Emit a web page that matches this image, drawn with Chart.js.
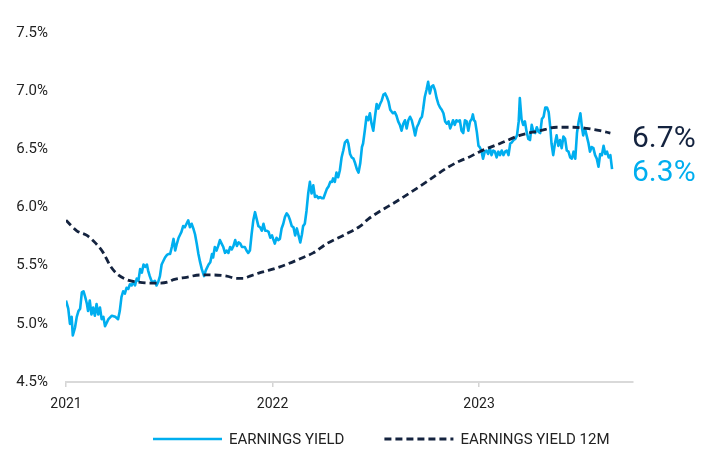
<!DOCTYPE html>
<html>
<head>
<meta charset="utf-8">
<script src="https://cdn.jsdelivr.net/npm/chart.js@4.4.0/dist/chart.umd.min.js"></script>
<style>
  html, body { margin: 0; padding: 0; background: #fff; }
  #chart { display: block; }
</style>
</head>
<body>
<canvas id="chart" width="712" height="451"></canvas>
<script>
// days since 1 Jan 2021
const eyDays = [
  0, 4, 7, 10, 12, 16, 19, 22, 25, 28,
  31, 34, 37, 39, 42, 45, 48, 51, 54, 57,
  60, 63, 66, 69, 72, 75, 81, 87, 92, 95,
  98, 101, 104, 107, 110, 113, 116, 119, 122, 125,
  128, 131, 134, 137, 140, 143, 145, 148, 151, 154,
  157, 160, 163, 166, 169, 172, 175, 178, 181, 184,
  187, 190, 193, 196, 199, 202, 204, 207, 210, 213,
  216, 219, 222, 225, 228, 231, 234, 237, 240, 244,
  247, 252, 255, 258, 260, 263, 266, 269, 272, 275,
  278, 281, 284, 287, 290, 293, 296, 299, 302, 305,
  308, 311, 313, 316, 319, 322, 325, 328, 331, 334,
  337, 340, 343, 346, 349, 352, 355, 358, 361, 364,
  366, 369, 372, 375, 378, 381, 384, 387, 390, 393,
  396, 399, 402, 405, 408, 411, 414, 417, 419, 422,
  425, 428, 431, 434, 437, 440, 443, 446, 449, 452,
  455, 458, 461, 464, 467, 470, 472, 475, 478, 481,
  484, 487, 490, 493, 497, 499, 502, 505, 508, 511,
  514, 517, 520, 523, 525, 528, 531, 534, 537, 540,
  543, 546, 549, 552, 555, 558, 561, 564, 567, 570,
  573, 576, 578, 581, 584, 587, 590, 593, 596, 599,
  602, 605, 608, 611, 614, 617, 620, 623, 626, 629,
  631, 634, 637, 640, 643, 646, 649, 652, 655, 658,
  661, 664, 667, 670, 673, 676, 679, 682, 684, 687,
  690, 693, 696, 699, 702, 705, 708, 711, 714, 717,
  719, 721, 723, 726, 729, 731, 734, 737, 740, 743,
  746, 749, 752, 755, 758, 761, 764, 767, 770, 773,
  776, 779, 782, 785, 788, 791, 794, 797, 800, 802,
  805, 808, 811, 814, 817, 820, 823, 826, 829, 832,
  835, 838, 841, 844, 847, 850, 853, 856, 858, 861,
  864, 867, 870, 873, 876, 879, 882, 885, 888, 891,
  894, 897, 900, 903, 906, 909, 912, 914, 917, 920,
  923, 926, 929, 932, 935, 938, 941, 944, 947, 950,
  953, 956, 959, 962, 965
];
const eyValues = [
  5.20, 5.13, 5.00, 5.06, 4.90, 4.97, 5.06, 5.11, 5.13, 5.27,
  5.28, 5.23, 5.17, 5.11, 5.20, 5.08, 5.14, 5.07, 5.17, 5.08,
  5.14, 5.04, 5.06, 4.98, 5.01, 5.04, 5.07, 5.06, 5.04, 5.11,
  5.23, 5.28, 5.26, 5.31, 5.30, 5.34, 5.33, 5.36, 5.33, 5.39,
  5.37, 5.47, 5.44, 5.51, 5.49, 5.51, 5.46, 5.41, 5.37, 5.36,
  5.37, 5.33, 5.36, 5.41, 5.51, 5.54, 5.57, 5.59, 5.60, 5.60,
  5.66, 5.73, 5.63, 5.69, 5.74, 5.77, 5.79, 5.84, 5.83, 5.86,
  5.89, 5.83, 5.86, 5.82, 5.77, 5.69, 5.60, 5.53, 5.47, 5.41,
  5.46, 5.51, 5.53, 5.60, 5.57, 5.66, 5.63, 5.67, 5.72, 5.69,
  5.66, 5.61, 5.63, 5.61, 5.66, 5.64, 5.67, 5.72, 5.67, 5.70,
  5.69, 5.66, 5.66, 5.66, 5.63, 5.61, 5.63, 5.77, 5.89, 5.96,
  5.90, 5.84, 5.83, 5.80, 5.86, 5.80, 5.80, 5.79, 5.74, 5.76,
  5.73, 5.69, 5.74, 5.72, 5.73, 5.82, 5.86, 5.92, 5.95, 5.93,
  5.89, 5.84, 5.83, 5.76, 5.82, 5.76, 5.70, 5.77, 5.84, 5.86,
  5.97, 6.12, 6.22, 6.12, 6.19, 6.09, 6.10, 6.08, 6.09, 6.08,
  6.08, 6.12, 6.16, 6.18, 6.22, 6.22, 6.25, 6.22, 6.30, 6.26,
  6.32, 6.43, 6.49, 6.56, 6.58, 6.55, 6.46, 6.43, 6.42, 6.38,
  6.33, 6.30, 6.38, 6.52, 6.55, 6.66, 6.78, 6.75, 6.81, 6.72,
  6.66, 6.78, 6.89, 6.85, 6.89, 6.92, 6.97, 6.98, 6.95, 6.91,
  6.84, 6.82, 6.81, 6.82, 6.79, 6.74, 6.71, 6.66, 6.72, 6.75,
  6.68, 6.75, 6.78, 6.75, 6.69, 6.62, 6.69, 6.72, 6.76, 6.78,
  6.84, 6.95, 7.01, 7.08, 6.98, 7.04, 7.05, 7.01, 6.94, 6.89,
  6.86, 6.84, 6.81, 6.74, 6.72, 6.74, 6.68, 6.72, 6.75, 6.71,
  6.75, 6.74, 6.75, 6.66, 6.64, 6.75, 6.74, 6.66, 6.74, 6.76,
  6.80, 6.75, 6.74, 6.65, 6.53, 6.52, 6.49, 6.42, 6.48, 6.49,
  6.46, 6.51, 6.45, 6.49, 6.48, 6.43, 6.48, 6.45, 6.49, 6.45,
  6.48, 6.49, 6.45, 6.55, 6.56, 6.58, 6.59, 6.62, 6.74, 6.94,
  6.76, 6.71, 6.74, 6.65, 6.59, 6.58, 6.71, 6.65, 6.64, 6.69,
  6.65, 6.64, 6.76, 6.78, 6.86, 6.86, 6.82, 6.68, 6.55, 6.45,
  6.55, 6.62, 6.53, 6.58, 6.51, 6.61, 6.59, 6.49, 6.48, 6.43,
  6.42, 6.48, 6.42, 6.64, 6.74, 6.81, 6.68, 6.62, 6.68, 6.62,
  6.56, 6.48, 6.52, 6.51, 6.45, 6.42, 6.35, 6.46, 6.45, 6.53,
  6.46, 6.48, 6.43, 6.45, 6.33
];

const avgDays = [
  0, 19, 37, 51, 66, 78, 90, 107, 125, 148,
  166, 181, 190, 213, 237, 260, 284, 302, 313, 325,
  343, 358, 378, 419, 437, 461, 490, 520, 534, 590,
  637, 673, 696, 711, 731, 767, 802, 838, 867, 897,
  920, 944, 962
];
const avgValues = [
  5.89, 5.80, 5.76, 5.70, 5.61, 5.50, 5.43, 5.38, 5.36, 5.35,
  5.35, 5.36, 5.38, 5.40, 5.42, 5.42, 5.41, 5.39, 5.39, 5.41,
  5.44, 5.46, 5.49, 5.57, 5.61, 5.69, 5.76, 5.84, 5.90, 6.07,
  6.22, 6.34, 6.40, 6.43, 6.48, 6.55, 6.62, 6.66, 6.69, 6.69,
  6.68, 6.66, 6.64
];

const yearTicks = [0, 365, 730];
const yearLabels = ["2021", "2022", "2023"];
const seriesNames = ["EARNINGS YIELD", "EARNINGS YIELD 12M"];
const endLabels = ["6.7%", "6.3%"];

const BLUE = "#00aeef";
const NAVY = "#14233f";
const TEXT = "#222222";
const FONT = "Roboto, 'Open Sans', sans-serif";

function toPoints(days, values) {
  return days.map((d, i) => ({ x: d, y: values[i] }));
}

// big coloured numbers to the right of the lines
const endLabelPlugin = {
  id: "endLabels",
  afterDatasetsDraw(chart) {
    const { ctx, scales, chartArea } = chart;
    const x = chartArea.right - 1;
    ctx.save();
    ctx.font = "30px " + FONT;
    ctx.textAlign = "left";
    ctx.textBaseline = "alphabetic";
    ctx.fillStyle = NAVY;
    ctx.fillText(endLabels[0], x, scales.y.getPixelForValue(avgValues[avgValues.length - 1]) + 14);
    ctx.fillStyle = BLUE;
    ctx.fillText(endLabels[1], x, scales.y.getPixelForValue(eyValues[eyValues.length - 1]) + 12);
    ctx.restore();
  },
};

// legend row under the axis: line sample + label, EY first
const lineLegendPlugin = {
  id: "lineLegend",
  afterDraw(chart) {
    const ctx = chart.ctx;
    const y = 439;
    let x = 153;
    ctx.save();
    ctx.font = "15px " + FONT;
    ctx.textBaseline = "middle";
    ctx.textAlign = "left";
    [1, 0].forEach((idx) => {
      const ds = chart.data.datasets[idx];
      ctx.strokeStyle = ds.borderColor;
      ctx.lineWidth = ds.borderWidth;
      ctx.setLineDash(ds.borderDash || []);
      ctx.beginPath();
      ctx.moveTo(x, y);
      ctx.lineTo(x + 69, y);
      ctx.stroke();
      ctx.setLineDash([]);
      ctx.fillStyle = TEXT;
      ctx.fillText(ds.label, x + 76, y + 1);
      x += 76 + ctx.measureText(ds.label).width + 40;
    });
    ctx.restore();
  },
};

new Chart(document.getElementById("chart"), {
  type: "line",
  data: {
    datasets: [
      {
        label: seriesNames[1],
        data: toPoints(avgDays, avgValues),
        borderColor: NAVY,
        backgroundColor: NAVY,
        borderWidth: 2.8,
        borderDash: [7, 4],
        cubicInterpolationMode: "monotone",
        pointRadius: 0,
      },
      {
        label: seriesNames[0],
        data: toPoints(eyDays, eyValues),
        borderColor: BLUE,
        backgroundColor: BLUE,
        borderWidth: 2.6,
        borderJoinStyle: "round",
        pointRadius: 0,
        tension: 0,
      },
    ],
  },
  options: {
    responsive: false,
    animation: false,
    devicePixelRatio: 1,
    layout: { padding: { left: 0, right: 79, top: 33, bottom: 0 } },
    plugins: {
      legend: { display: false },
      tooltip: { enabled: false },
    },
    scales: {
      x: {
        type: "linear",
        min: 0,
        max: 1002,
        afterBuildTicks: (s) => {
          s.ticks = yearTicks.map((v) => ({ value: v }));
        },
        afterFit: (s) => {
          s.height = 69;
        },
        ticks: {
          callback: (v) => yearLabels[yearTicks.indexOf(v)],
          font: { family: FONT, size: 14 },
          color: TEXT,
          padding: 9,
          maxRotation: 0,
        },
        grid: { display: true, drawOnChartArea: false, drawTicks: true, tickLength: 5, color: "#d4d4d4", lineWidth: 1.5 },
        border: { display: true, color: "#d9d9d9", width: 2 },
      },
      y: {
        min: 4.5,
        max: 7.5,
        afterFit: (s) => {
          s.width = 66;
        },
        ticks: {
          stepSize: 0.5,
          padding: 18,
          callback: (v) => v.toFixed(1) + "%",
          font: { family: FONT, size: 15 },
          color: TEXT,
        },
        grid: { display: false, drawTicks: false },
        border: { display: false },
      },
    },
  },
  plugins: [endLabelPlugin, lineLegendPlugin],
});
</script>
</body>
</html>
